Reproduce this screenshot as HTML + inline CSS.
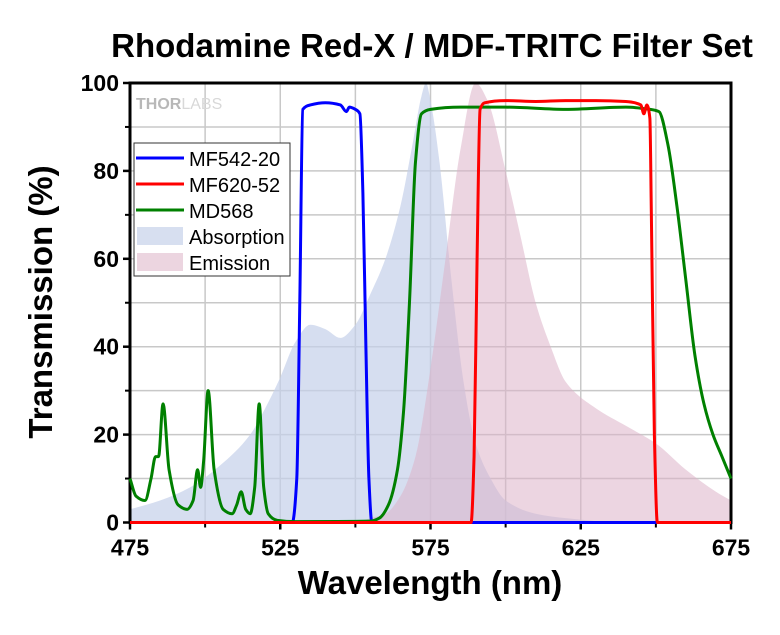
<!DOCTYPE html>
<html><head><meta charset="utf-8"><style>
body{margin:0;background:#fff;}
svg text{font-family:"Liberation Sans",Arial,sans-serif;}
</style></head><body>
<svg id="chart" width="780" height="630" viewBox="0 0 780 630">
<text x="432" y="57" text-anchor="middle" font-size="33" font-weight="bold">Rhodamine Red-X / MDF-TRITC Filter Set</text>
<g id="grid"></g>
<g id="fills"></g>
<g id="axes"></g>
<g id="lines"></g>
<text x="136" y="109" font-size="16" font-weight="bold" fill="#b8b8b8">THOR<tspan font-weight="normal" fill="#d8d8d8">LABS</tspan></text>
<g>
<rect x="134" y="143" width="156" height="133" fill="#fff" stroke="#333" stroke-width="1"/>
<line x1="136" y1="158" x2="184" y2="158" stroke="#0000ff" stroke-width="3"/>
<text x="189" y="166" font-size="20">MF542-20</text>
<line x1="136" y1="184" x2="184" y2="184" stroke="#ff0000" stroke-width="3"/>
<text x="189" y="192" font-size="20">MF620-52</text>
<line x1="136" y1="210" x2="184" y2="210" stroke="#008000" stroke-width="3"/>
<text x="189" y="218" font-size="20">MD568</text>
<rect x="137" y="227" width="46" height="18" fill="#d7dff0"/>
<text x="189" y="244" font-size="20">Absorption</text>
<rect x="137" y="253" width="46" height="18" fill="#ecd5e0"/>
<text x="189" y="270" font-size="20">Emission</text>
</g>
<text x="430" y="594" text-anchor="middle" font-size="33" font-weight="bold">Wavelength (nm)</text>
<text transform="translate(52,302) rotate(-90)" text-anchor="middle" font-size="33" font-weight="bold">Transmission (%)</text>
</svg>
<script>
const xTicks=[475,525,575,625,675];
const yTicks=[0,20,40,60,80,100];
const absX=[475,485,495,505,515,520,525,530,535,540,545,550,555,560,565,569,572,573.5,575,578,582,586,590,595,600,610,620,640,675];
const absY=[3,5,8,13,20,26,33,41,45,44,42,45,52,60,72,86,97,100,96,82,55,32,18,10,5,2,1,0,0];
const emX=[475,550,555,560,565,570,575,580,585,590,594,600,605,610,615,620,630,640,650,660,670,675];
const emY=[0,0,1,2,6,15,35,60,85,100,96,80,65,50,40,32,26,22,18,12,7,5];
const mdX=[475,477,480,482,483.5,484.5,486,488,491,494,496,497.5,498.5,499.5,501,503,506,509,510.5,512,513.5,515,516.5,518,519.5,521,524,530,555,558,561,564,566,568,570,572,575,585,600,620,640,648,651,654,657,660,663,666,669,672,675];
const mdY=[10,6,5,10,15,15,27,12,4,3,5,12,8,14,30,12,3,2,4,7,3,2,8,27,8,2,0.5,0.2,0.3,1,4,12,25,50,82,93,94,94.5,94.5,94,94.5,94,93.5,86,72,55,38,27,20,15,10];
const bpX=[475,529,530.5,531.5,532.5,535,540,545,547,548,550,551.5,552.5,553.5,554.5,555.5,675];
const bpY=[0,0,10,50,94,95,95.5,95,93.5,94.5,94,93,75,40,10,0,0];
const epX=[475,588.5,589.5,590.5,591.5,593,600,610,620,630,640,645,646,647,648,648.5,649.5,650.5,675];
const epY=[0,0,15,60,94,95.5,96,95.8,96,96,95.8,95,93,95,92,70,20,0,0];
const X0=130,X1=731,Y0=522.5,Y1=83;
const sx=v=>X0+(v-475)/200*(X1-X0);
const sy=v=>Y0-v/100*(Y0-Y1);
const NS='http://www.w3.org/2000/svg';
function mk(tag,attrs,parent){const e=document.createElementNS(NS,tag);for(const k in attrs)e.setAttribute(k,attrs[k]);parent.appendChild(e);return e;}
function path(xs,ys){
 const n=xs.length,X=xs.map(sx),Y=ys.map(sy),d=[],m=[];
 for(let i=0;i<n-1;i++)d.push((Y[i+1]-Y[i])/(X[i+1]-X[i]));
 m[0]=d[0];m[n-1]=d[n-2];
 for(let i=1;i<n-1;i++){if(d[i-1]*d[i]<=0)m[i]=0;else{const w1=2*(X[i+1]-X[i])+(X[i]-X[i-1]),w2=(X[i+1]-X[i])+2*(X[i]-X[i-1]);m[i]=(w1+w2)/(w1/d[i-1]+w2/d[i]);}}
 let s='M'+X[0]+','+Y[0];
 for(let i=0;i<n-1;i++){const h=(X[i+1]-X[i])/3;s+=' C'+(X[i]+h)+','+(Y[i]+m[i]*h)+' '+(X[i+1]-h)+','+(Y[i+1]-m[i+1]*h)+' '+X[i+1]+','+Y[i+1];}
 return s;}
const grid=document.getElementById('grid'),fills=document.getElementById('fills'),lines=document.getElementById('lines'),axes=document.getElementById('axes');
for(let v=500;v<675;v+=25){const l=mk('line',{x1:sx(v),x2:sx(v),y1:Y1,y2:Y0,stroke:'#c8c8c8','stroke-width':1.5},grid);

}
for(let v=10;v<100;v+=10){const l=mk('line',{x1:X0,x2:X1,y1:sy(v),y2:sy(v),stroke:'#c8c8c8','stroke-width':1.5},grid);

}
const a=mk('path',{d:path(absX,absY)+` L${sx(675)},${sy(0)} L${sx(475)},${sy(0)}Z`,fill:'#c5d0ea','fill-opacity':0.7},fills);


const e=mk('path',{d:path(emX,emY)+` L${sx(675)},${sy(0)} L${sx(475)},${sy(0)}Z`,fill:'#dcb3c8','fill-opacity':0.55},fills);


const series=[[bpX,bpY,'#0000ff','mf542-20-line'],[mdX,mdY,'#008000','md568-line'],[epX,epY,'#ff0000','mf620-52-line']];
for(const s of series){const l=mk('path',{d:path(s[0],s[1]),fill:'none',stroke:s[2],'stroke-width':3,'stroke-linejoin':'round'},lines);

}
mk('rect',{x:X0,y:Y1,width:X1-X0,height:Y0-Y1,fill:'none',stroke:'#000','stroke-width':3},axes);
xTicks.forEach(v=>{mk('line',{x1:sx(v),x2:sx(v),y1:Y0,y2:Y0+7,stroke:'#000','stroke-width':2.5},axes);
const t=mk('text',{x:sx(v),y:Y0+33,'text-anchor':'middle','font-size':23,'font-weight':'bold'},axes);t.textContent=v;

});
for(let v=500;v<675;v+=50)mk('line',{x1:sx(v),x2:sx(v),y1:Y0,y2:Y0+5,stroke:'#000','stroke-width':2},axes);
yTicks.forEach(v=>{mk('line',{x1:X0-7,x2:X0,y1:sy(v),y2:sy(v),stroke:'#000','stroke-width':2.5},axes);
const t=mk('text',{x:X0-11,y:sy(v)+8,'text-anchor':'end','font-size':23,'font-weight':'bold'},axes);t.textContent=v;

});
for(let v=10;v<100;v+=20)mk('line',{x1:X0-5,x2:X0,y1:sy(v),y2:sy(v),stroke:'#000','stroke-width':2},axes);
</script>
</body></html>
